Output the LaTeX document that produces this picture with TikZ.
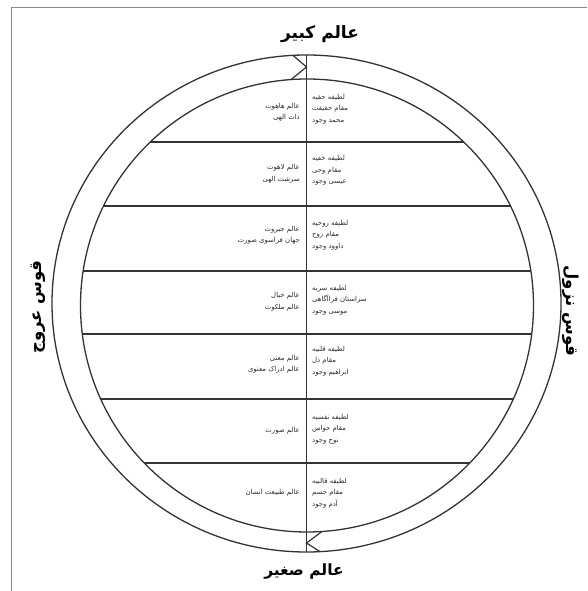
\documentclass[tikz,border=0pt]{standalone}
\usepackage{fontspec}
\usetikzlibrary{calc}
\newfontfamily\arabicfont[Script=Arabic]{DejaVu Sans}
\TeXXeTstate=1
\newcommand\fa[1]{\beginR #1\endR}
\definecolor{linegray}{HTML}{333333}
\definecolor{framegray}{HTML}{8A8A8A}
\definecolor{textgray}{HTML}{2A2A2A}
\begin{document}
\begin{tikzpicture}[x=1pt,y=1pt,
  ring/.style={draw=linegray,line width=1.3pt},
  rowline/.style={draw=linegray,line width=1.2pt},
  celltxt/.style={font=\arabicfont\fontsize{6.9}{11.5}\selectfont,text=textgray,inner sep=0pt},
  rcell/.style={celltxt,anchor=west,align=left},
  lcell/.style={celltxt,anchor=east,align=right},
  title/.style={font=\arabicfont\bfseries\fontsize{17}{19}\selectfont,text=black,inner sep=0pt},
  sidetitle/.style={font=\arabicfont\bfseries\fontsize{16.5}{18}\selectfont,text=black,inner sep=0pt}]
\useasboundingbox (0,0) rectangle (587,591);
% frame
\draw[framegray,line width=1pt] (11,0) -- (11,583) -- (587,583);
% circles
\coordinate (C) at (307,285.5);
\coordinate (O) at (306.5,287.5);
\draw[ring] (O) ellipse [x radius=254.5,y radius=248.5];
\draw[ring] (C) circle [radius=226.5];
% vertical axis
\coordinate (vt) at (306.5,536);
\coordinate (vb) at (306.5,39);
\draw[rowline] (vt) -- (vb);
% horizontal rows
\foreach \yy [count=\i] in {142,206,271,334,399,463}{
  \pgfmathsetmacro\d{305.5-\yy}
  \coordinate (l\i) at ($(C)+({180-asin(\d/226.5)}:226.5)$);
  \coordinate (r\i) at ($(C)+({asin(\d/226.5)}:226.5)$);
  \draw[rowline] (l\i) -- (r\i);
}
% zigzags
\coordinate (zt1) at (293,535.6);
\coordinate (zt2) at (306.5,524);
\coordinate (zt3) at (291,511.4);
\draw[rowline] (zt1) -- (zt2) -- (zt3);
\coordinate (zb1) at (322,59.5);
\coordinate (zb2) at (306.5,48);
\coordinate (zb3) at (320,39.4);
\draw[rowline] (zb1) -- (zb2) -- (zb3);
% titles
\node[title] (kabir) at (320,557) {\fa{عالم کبیر}};
\node[title,font=\arabicfont\bfseries\fontsize{15.5}{17}\selectfont] (saghir) at (304,19) {\fa{عالم صغیر}};
\node[sidetitle,rotate=90] (orouj) at (38,284) {\fa{قوس عروج}};
\node[sidetitle,rotate=-90] (nozul) at (571,280) {\fa{قوس نزول}};
% row 1
\node[rcell] (a1) at (312,482) {\fa{لطیفه حقیه}\\\fa{مقام حقیقت}\\\fa{محمد وجود}};
\node[lcell] (b1) at (300,479) {\fa{عالم هاهوت}\\\fa{ذات الهی}};
% row 2
\node[rcell] (a2) at (312,420.5) {\fa{لطیفه خفیه}\\\fa{مقام وحی}\\\fa{عیسی وجود}};
\node[lcell] (b2) at (300,417.5) {\fa{عالم لاهوت}\\\fa{سرشت الهی}};
% row 3
\node[rcell] (a3) at (312,356) {\fa{لطیفه روحیه}\\\fa{مقام روح}\\\fa{داوود وجود}};
\node[lcell] (b3) at (300,356) {\fa{عالم جبروت}\\\fa{جهان فراسوی صورت}};
% row 4
\node[rcell] (a4) at (312,291) {\fa{لطیفه سریه}\\\fa{سراستان فراآگاهی}\\\fa{موسی وجود}};
\node[lcell] (b4) at (300,289.5) {\fa{عالم خیال}\\\fa{عالم ملکوت}};
% row 5
\node[rcell] (a5) at (312,230) {\fa{لطیفه قلبیه}\\\fa{مقام دل}\\\fa{ابراهیم وجود}};
\node[lcell] (b5) at (300,227) {\fa{عالم معنی}\\\fa{عالم ادراک معنوی}};
% row 6
\node[rcell] (a6) at (312,162) {\fa{لطیفه نفسیه}\\\fa{مقام حواس}\\\fa{نوح وجود}};
\node[lcell] (b6) at (300,160) {\fa{عالم صورت}};
% row 7
\node[rcell] (a7) at (312,98) {\fa{لطیفه قالبیه}\\\fa{مقام جسم}\\\fa{آدم وجود}};
\node[lcell] (b7) at (300,98) {\fa{عالم طبیعت انسان}};
\end{tikzpicture}
\end{document}
